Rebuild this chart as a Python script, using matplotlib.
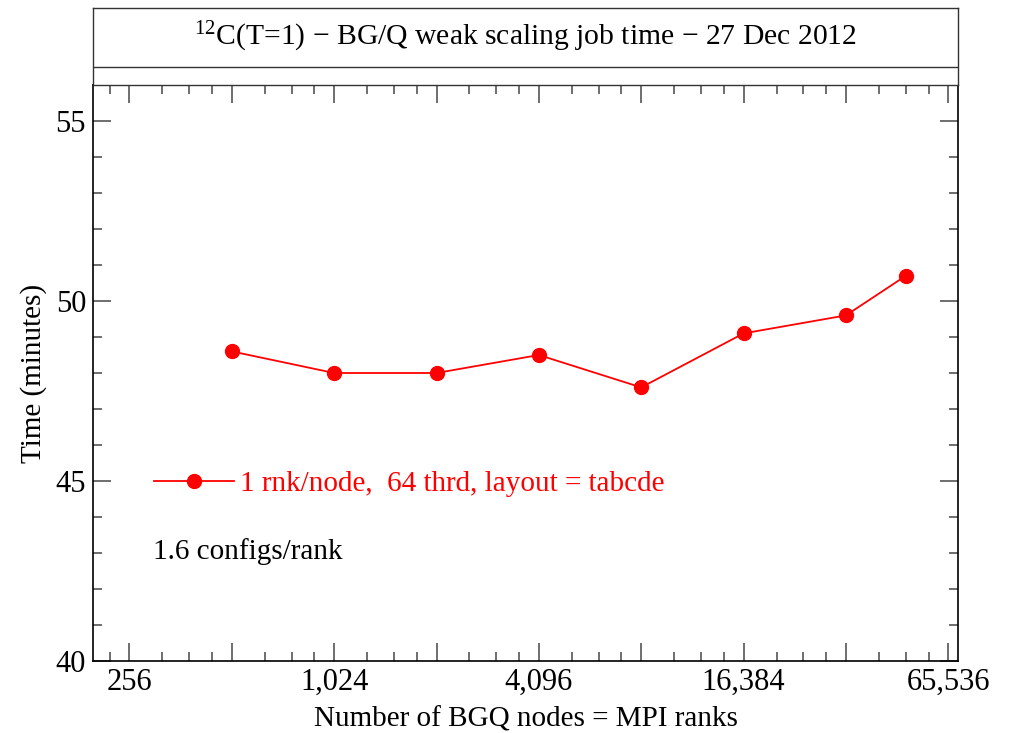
import numpy as np
import matplotlib
matplotlib.use("Agg")
import matplotlib.pyplot as plt
from matplotlib.ticker import FixedLocator, FuncFormatter, MultipleLocator

plt.rcParams["font.family"] = ["Liberation Serif", "DejaVu Serif"]
plt.rcParams["mathtext.default"] = "regular"

# weak scaling run: nodes vs wall-clock minutes
nodes = [512, 1024, 2048, 4096, 8192, 16384, 32768, 49152]
minutes = [48.6, 48.0, 48.0, 48.5, 47.6, 49.1, 49.6, 50.7]
series_label = "1 rnk/node,  64 thrd, layout = tabcde"
note = "1.6 configs/rank"
labelled_ticks = [256, 1024, 4096, 16384, 65536]

W, H = 1009, 733
fig = plt.figure(figsize=(W / 100, H / 100), dpi=100)

left, right = 93 / W, 958 / W
ax = fig.add_axes([left, 1 - 661 / H, right - left, (661 - 85) / H])

# title panel above the plot
tax = fig.add_axes([left, 1 - 85 / H, right - left, (85 - 8) / H])
tax.set_xticks([])
tax.set_yticks([])
for s in tax.spines.values():
    s.set_linewidth(1.0)
    s.set_color("#333333")
tax.axhline((85 - 67) / (85 - 8), color="#333333", lw=1.0)
tax.text(0.5, 1 - (37 - 8) / (85 - 8),
         "$^{12}$C(T=1) \u2212 BG/Q weak scaling job time \u2212 27 Dec 2012",
         ha="center", va="center", fontsize=21.3, transform=tax.transAxes)

ax.plot(nodes, minutes, color="red", lw=1.3, marker="o", ms=10,
        label=series_label)

ax.set_xscale("log", base=2)
ax.set_xlim(200, 70000)
ax.set_ylim(40, 56)

major = [2.0 ** k for k in range(8, 17)]
minor = [2.0 ** k * f for k in range(7, 17) for f in (1.25, 1.5, 1.75)]
ax.xaxis.set_major_locator(FixedLocator(major))
ax.xaxis.set_minor_locator(FixedLocator(minor))
ax.xaxis.set_major_formatter(
    FuncFormatter(lambda v, p: f"{int(round(v)):,}" if int(round(v)) in labelled_ticks else ""))
ax.xaxis.set_minor_formatter(FuncFormatter(lambda v, p: ""))

ax.yaxis.set_major_locator(FixedLocator([40, 45, 50, 55]))
ax.yaxis.set_minor_locator(MultipleLocator(1))

ax.tick_params(which="both", direction="in", top=True, right=True,
               color="#555555", width=1.2, labelsize=22)
ax.tick_params(which="major", length=13, pad=5)
ax.tick_params(which="minor", length=6.5)
ax.tick_params(axis="y", which="major", pad=5)

for s in ax.spines.values():
    s.set_linewidth(1.2)

ax.set_xlabel("Number of BGQ nodes = MPI ranks", fontsize=21, labelpad=7)
ax.set_ylabel("Time (minutes)", fontsize=21, labelpad=6)

ax.legend(loc="center left", bbox_to_anchor=((154 - 93) / 865, (661 - 484) / 576),
          frameon=False, fontsize=21, handlelength=2.75, handletextpad=0.2,
          labelcolor="red", borderpad=0, borderaxespad=0)

ax.text((153 - 93) / 865, (661 - 552) / 576, note, transform=ax.transAxes,
        ha="left", va="center", fontsize=21)

fig.savefig("out.png", dpi=100)
